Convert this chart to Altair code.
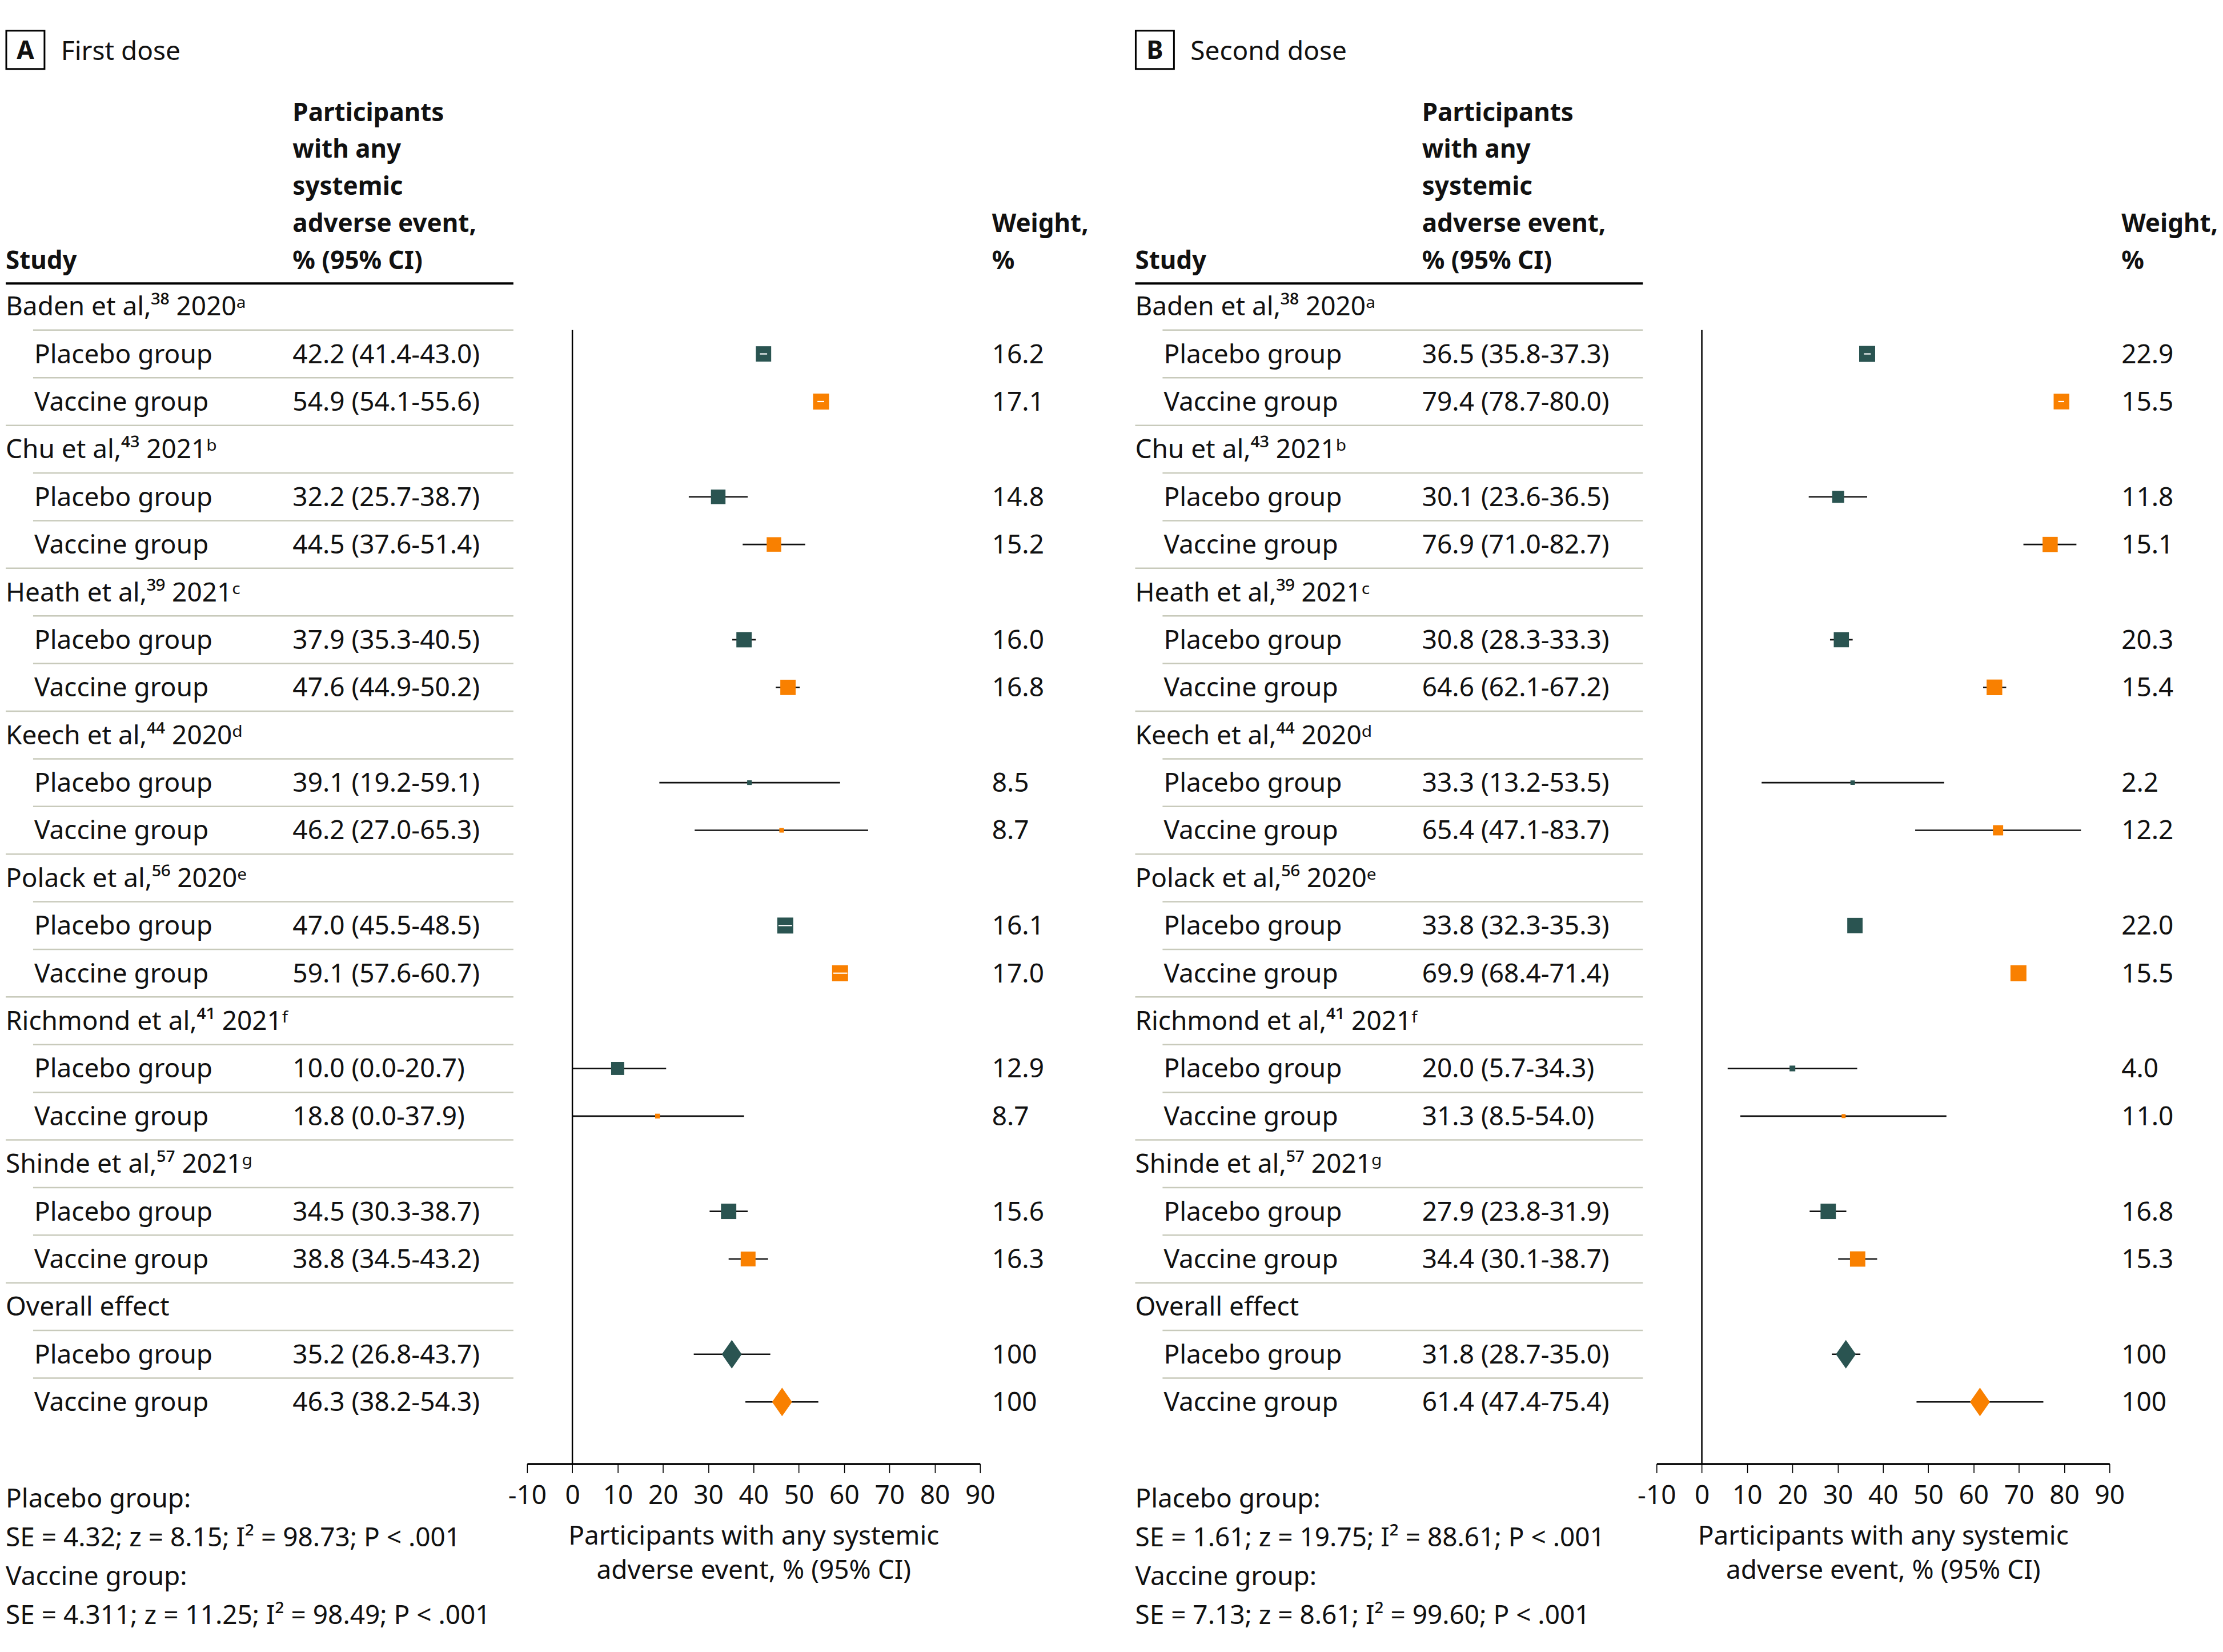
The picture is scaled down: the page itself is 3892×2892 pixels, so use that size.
import altair as alt
import pandas as pd

# ---------------- data ----------------
study_names = [
    "Baden et al,³⁸ 2020ᵃ", "Chu et al,⁴³ 2021ᵇ", "Heath et al,³⁹ 2021ᶜ",
    "Keech et al,⁴⁴ 2020ᵈ", "Polack et al,⁵⁶ 2020ᵉ", "Richmond et al,⁴¹ 2021ᶠ",
    "Shinde et al,⁵⁷ 2021ᵍ", "Overall effect",
]
group_names = ["Placebo group", "Vaccine group"]

# Panel A - first dose
a_plc_est = [42.2, 32.2, 37.9, 39.1, 47.0, 10.0, 34.5, 35.2]
a_plc_lo = [41.4, 25.7, 35.3, 19.2, 45.5, 0.0, 30.3, 26.8]
a_plc_hi = [43.0, 38.7, 40.5, 59.1, 48.5, 20.7, 38.7, 43.7]
a_plc_wt = [16.2, 14.8, 16.0, 8.5, 16.1, 12.9, 15.6, 100]
a_vac_est = [54.9, 44.5, 47.6, 46.2, 59.1, 18.8, 38.8, 46.3]
a_vac_lo = [54.1, 37.6, 44.9, 27.0, 57.6, 0.0, 34.5, 38.2]
a_vac_hi = [55.6, 51.4, 50.2, 65.3, 60.7, 37.9, 43.2, 54.3]
a_vac_wt = [17.1, 15.2, 16.8, 8.7, 17.0, 8.7, 16.3, 100]
# relative study box size as drawn (1 = largest); overall rows use diamonds
a_plc_box = [0.96, 0.91, 0.96, 0.29, 1.0, 0.82, 0.96, None]
a_vac_box = [1.0, 0.91, 0.96, 0.29, 1.0, 0.30, 0.93, None]
# rows whose whole CI lies inside the box (CI drawn in white on the box)
a_white = {"Placebo group": [0, 4], "Vaccine group": [0, 4]}
a_footer = ["Placebo group:",
            "SE = 4.32; z = 8.15; I² = 98.73; P < .001",
            "Vaccine group:",
            "SE = 4.311; z = 11.25; I² = 98.49; P < .001"]

# Panel B - second dose
b_plc_est = [36.5, 30.1, 30.8, 33.3, 33.8, 20.0, 27.9, 31.8]
b_plc_lo = [35.8, 23.6, 28.3, 13.2, 32.3, 5.7, 23.8, 28.7]
b_plc_hi = [37.3, 36.5, 33.3, 53.5, 35.3, 34.3, 31.9, 35.0]
b_plc_wt = [22.9, 11.8, 20.3, 2.2, 22.0, 4.0, 16.8, 100]
b_vac_est = [79.4, 76.9, 64.6, 65.4, 69.9, 31.3, 34.4, 61.4]
b_vac_lo = [78.7, 71.0, 62.1, 47.1, 68.4, 8.5, 30.1, 47.4]
b_vac_hi = [80.0, 82.7, 67.2, 83.7, 71.4, 54.0, 38.7, 75.4]
b_vac_wt = [15.5, 15.1, 15.4, 12.2, 15.5, 11.0, 15.3, 100]
b_plc_box = [1.0, 0.75, 0.95, 0.28, 0.96, 0.36, 0.96, None]
b_vac_box = [0.98, 0.95, 0.98, 0.64, 1.0, 0.25, 0.96, None]
b_white = {"Placebo group": [0], "Vaccine group": [0]}
b_footer = ["Placebo group:",
            "SE = 1.61; z = 19.75; I² = 88.61; P < .001",
            "Vaccine group:",
            "SE = 7.13; z = 8.61; I² = 99.60; P < .001"]

tick_values = [-10, 0, 10, 20, 30, 40, 50, 60, 70, 80, 90]
header_ci = ["Participants", "with any", "systemic", "adverse event,", "% (95% CI)"]
header_wt = ["Weight,", "%"]
axis_title = ["Participants with any systemic", "adverse event, % (95% CI)"]

# ---------------- style / layout ----------------
FONT = "Noto Sans"
FS = 46
HFS = 44
TXT = "#111111"
TEAL = "#2a5451"
ORANGE = "#f98000"
SEP = "#c8cabb"

W = 1895
H = 2556
ROW_PX = 83.5
ROW0 = 527.0
Y_DOM = [-ROW0 / ROW_PX, (H - ROW0) / ROW_PX]
X_RANGE = [914, 1708]
X_STUDY, X_GROUP, X_VAL, X_WT, X_END = 0, 50, 503, 1729, 890
BOX_MAX = 28.0

xscale = alt.Scale(domain=[-10, 90], range=X_RANGE, nice=False, zero=False)
xaxis = alt.Axis(values=tick_values, labelExpr="'' + datum.value", grid=False,
                 domainColor="black", domainWidth=3.5, tickColor="black",
                 tickWidth=1.6, tickSize=16, labelFontSize=FS, labelFont=FONT,
                 labelColor=TXT, labelPadding=18, labelFlush=False,
                 labelOverlap=False, title=axis_title, titleFont=FONT,
                 titleFontSize=FS, titleFontWeight="normal", titleColor=TXT,
                 titlePadding=26, titleLineHeight=60)
yscale = alt.Scale(domain=Y_DOM, range=[0, H], nice=False, zero=False)


def X(field):
    return alt.X(field, type="quantitative", scale=xscale, axis=xaxis)


def Y(field="row"):
    return alt.Y(field, type="quantitative", scale=yscale, axis=None)


def build(pe, pl, ph, pw, pb, ve, vl, vh, vw, vb, white):
    recs = []
    n = len(study_names)
    for i, s in enumerate(study_names):
        recs.append(dict(row=3 * i, kind="study", label=s))
        for j, (g, e, lo, hi, wt, bx) in enumerate(
                [(group_names[0], pe[i], pl[i], ph[i], pw[i], pb[i]),
                 (group_names[1], ve[i], vl[i], vh[i], vw[i], vb[i])]):
            recs.append(dict(
                row=3 * i + 1 + j, kind="group", label=g, group=g, est=e,
                lo=lo, hi=hi, box=bx if bx is not None else 0.0,
                overall=(i == n - 1), white=(i in white[g]),
                ci_txt=f"{e:.1f} ({lo:.1f}-{hi:.1f})",
                wt_txt=("100" if wt == 100 else f"{wt:.1f}")))
    return pd.DataFrame(recs)


def panel(df, letter, title, footer):
    grp = df[df.kind == "group"].reset_index(drop=True)
    nrows = int(df.row.max())
    seps = pd.DataFrame({"pos": [r + 0.5 for r in range(nrows)],
                         "full": [r % 3 == 2 for r in range(nrows)]})
    one = pd.DataFrame({"k": [0]})
    txt = dict(font=FONT, fontSize=FS, color=TXT, align="left",
               baseline="alphabetic")
    htxt = dict(font=FONT, fontSize=HFS, color=TXT, align="left",
                baseline="alphabetic", fontWeight="bold")

    box = alt.Chart(one).mark_rect(fill="white", stroke="black", strokeWidth=3).encode(
        x=alt.value(1), x2=alt.value(68), y=alt.value(44), y2=alt.value(111))
    box_txt = alt.Chart(one).mark_text(font=FONT, fontSize=44, fontWeight="bold",
                                       color=TXT, align="center", baseline="alphabetic",
                                       text=letter).encode(
        x=alt.value(34.5), y=alt.value(93))
    ttl = alt.Chart(one).mark_text(text=title, **txt).encode(
        x=alt.value(97), y=alt.value(95))

    hdr_study = alt.Chart(one).mark_text(text="Study", **htxt).encode(
        x=alt.value(X_STUDY), y=alt.value(462))
    hdr_ci = alt.Chart(one).mark_text(text=header_ci, lineHeight=65, **htxt).encode(
        x=alt.value(X_VAL), y=alt.value(202))
    hdr_wt = alt.Chart(one).mark_text(text=header_wt, lineHeight=65, **htxt).encode(
        x=alt.value(X_WT), y=alt.value(397))
    hdr_rule = alt.Chart(one).mark_rule(color="black", strokeWidth=4).encode(
        x=alt.value(X_STUDY), x2=alt.value(X_END), y=alt.value(487))

    sep_in = alt.Chart(seps).transform_filter("!datum.full").mark_rule(
        color=SEP, strokeWidth=2.5).encode(
        x=alt.value(X_GROUP - 2), x2=alt.value(X_END), y=Y("pos"))
    sep_full = alt.Chart(seps).transform_filter("datum.full").mark_rule(
        color=SEP, strokeWidth=2.5).encode(
        x=alt.value(X_STUDY), x2=alt.value(X_END), y=Y("pos"))

    t_study = alt.Chart(df).transform_filter("datum.kind == 'study'").mark_text(
        dy=16, **txt).encode(x=alt.value(X_STUDY), y=Y(), text="label:N")
    t_group = alt.Chart(grp).mark_text(dy=16, **txt).encode(
        x=alt.value(X_GROUP), y=Y(), text="label:N")
    t_ci = alt.Chart(grp).mark_text(dy=16, **txt).encode(
        x=alt.value(X_VAL), y=Y(), text="ci_txt:N")
    t_wt = alt.Chart(grp).mark_text(dy=16, **txt).encode(
        x=alt.value(X_WT), y=Y(), text="wt_txt:N")

    zero = alt.Chart(pd.DataFrame({"z": [0.0]})).mark_rule(
        color="black", strokeWidth=2.5).encode(
        x=X("z"), y=alt.value(ROW0 + ROW_PX * 0.5), y2=alt.value(H))

    color = alt.Color("group:N", scale=alt.Scale(domain=group_names,
                                                 range=[TEAL, ORANGE]), legend=None)
    ci = alt.Chart(grp).mark_rule(color="#111111", strokeWidth=2.6).encode(
        x=X("lo"), x2=alt.X2("hi"), y=Y())
    boxes = alt.Chart(grp).transform_filter("!datum.overall").mark_point(
        shape="square", filled=True, opacity=1, strokeWidth=0).encode(
        x=X("est"), y=Y(), color=color,
        size=alt.Size("box:Q", scale=alt.Scale(type="pow", exponent=2, domain=[0, 1],
                                               range=[0, BOX_MAX ** 2]), legend=None))
    white_ci = alt.Chart(grp).transform_filter("datum.white").mark_rule(
        color="white", strokeWidth=2.2).encode(x=X("lo"), x2=alt.X2("hi"), y=Y())
    diamonds = alt.Chart(grp).transform_filter("datum.overall").mark_point(
        shape="M0,-1L0.7,0L0,1L-0.7,0Z", filled=True, opacity=1, size=2500,
        strokeWidth=0).encode(x=X("est"), y=Y(), color=color)

    foot = alt.Chart(one).mark_text(text=footer, lineHeight=68, **txt).encode(
        x=alt.value(X_STUDY), y=alt.value(2633))

    return alt.layer(ci, zero, boxes, white_ci, diamonds, box, box_txt, ttl,
                     hdr_study, hdr_ci, hdr_wt, hdr_rule, sep_in, sep_full,
                     t_study, t_group, t_ci, t_wt, foot).properties(width=W, height=H)


df_a = build(a_plc_est, a_plc_lo, a_plc_hi, a_plc_wt, a_plc_box,
             a_vac_est, a_vac_lo, a_vac_hi, a_vac_wt, a_vac_box, a_white)
df_b = build(b_plc_est, b_plc_lo, b_plc_hi, b_plc_wt, b_plc_box,
             b_vac_est, b_vac_lo, b_vac_hi, b_vac_wt, b_vac_box, b_white)

chart = alt.hconcat(
    panel(df_a, "A", "First dose", a_footer),
    panel(df_b, "B", "Second dose", b_footer),
    spacing=85, bounds="flush",
).properties(
    padding={"left": 0, "top": 0, "right": 0, "bottom": 30}
).configure(background="white").configure_view(stroke=None)

chart.save("out.html", embed_options={"renderer": "svg", "actions": False})
